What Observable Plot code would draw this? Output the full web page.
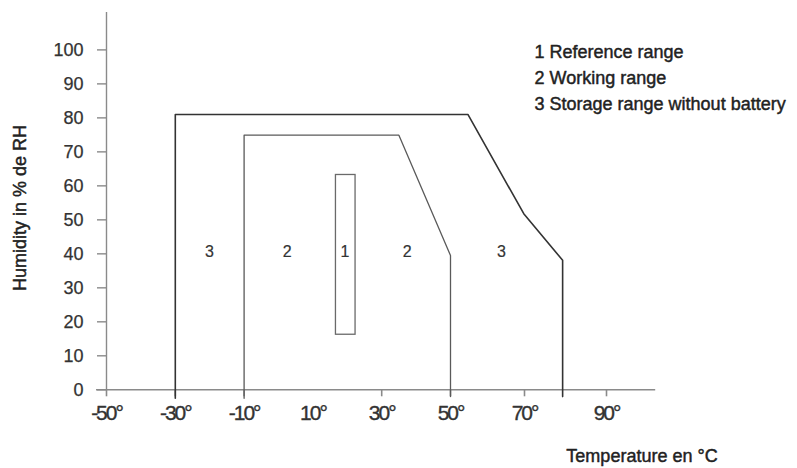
<!DOCTYPE html>
<html>
<head>
<meta charset="utf-8">
<script src="https://cdn.jsdelivr.net/npm/d3@7"></script>
<script src="https://cdn.jsdelivr.net/npm/@observablehq/plot@0.6"></script>
<style>
  html, body { margin: 0; padding: 0; background: #fff; }
  #chart svg { display: block; }
  #chart svg text { stroke-linejoin: round; }
  #chart .heavy text { stroke: #222; stroke-width: 0.45px; }
  #chart .ylabels text { stroke: #333; stroke-width: 0.25px; }
  #chart .xlabels text { letter-spacing: -2px; stroke: #333; stroke-width: 0.35px; }
  #chart .regions text { stroke: #333; stroke-width: 0.2px; }
</style>
</head>
<body>
<div id="chart"></div>
<script>
// Tick values
const xTicks = [-50, -30, -10, 10, 30, 50, 70, 90];
const xTickMarks = [-50, -30, -10, 30, 50, 70, 90];
const yTicks = [0, 10, 20, 30, 40, 50, 60, 70, 80, 90, 100];

// 3 Storage range without battery (temperature °C, humidity %RH)
const storageT = [-30, -30, 54.7, 69.8, 79.3, 79.3];
const storageH = [-2.5, 81, 81, 51.8, 38.1, -2];

// 2 Working range
const workingT = [-10, -10, 35, 50, 50];
const workingH = [-2.5, 74.9, 74.9, 39.5, -2];

// 1 Reference range (rectangle)
const refT = [16.7, 22.4];
const refH = [16.2, 63.2];

// Region number labels
const regionLabels = ["3", "2", "1", "2", "3"];
const regionT = [-20.1, 2.5, 19.3, 37.4, 63.8];
const regionH = [40.7, 40.7, 40.7, 40.7, 40.7];

// Legend and axis titles
const legendLines = ["1 Reference range", "2 Working range", "3 Storage range without battery"];
const yTitle = "Humidity in % de RH";
const xTitle = "Temperature en °C";

const toPts = (ts, hs) => ts.map((t, i) => ({t, h: hs[i]}));
const storage = toPts(storageT, storageH);
const working = toPts(workingT, workingH);
const ref = [{t1: refT[0], t2: refT[1], h1: refH[0], h2: refH[1]}];
const regions = regionLabels.map((s, i) => ({s, t: regionT[i], h: regionH[i]}));

const axisGray = "#8a8a8a";

const chart = Plot.plot({
  width: 797,
  height: 468,
  marginLeft: 106,
  marginRight: 142,
  marginTop: 12,
  marginBottom: 78.7,
  style: {fontFamily: "'Liberation Sans', Arial, sans-serif", background: "#fff", overflow: "visible"},
  x: {type: "linear", domain: [-50, 50, 70, 90], range: [106, 450, 524, 606], label: null},
  y: {type: "linear", domain: [0, 111], range: [389.3, 12], label: null},
  marks: [
    // axis lines
    Plot.ruleY([0], {x1: -52.9, x2: 102, stroke: axisGray, strokeWidth: 1.6}),
    Plot.ruleX([-50], {y1: 0, y2: 111, stroke: axisGray, strokeWidth: 1.4}),
    // tick marks
    Plot.axisY({ticks: yTicks, tickSize: 9, text: null, stroke: axisGray, strokeWidth: 1.4, label: null}),
    Plot.axisX({ticks: xTickMarks, tickSize: 7, text: null, stroke: axisGray, strokeWidth: 1.6, label: null}),
    // tick labels (text mark 0 and 1)
    Plot.text(yTicks, {x: -50, y: d => d, text: d => String(d), textAnchor: "end", dx: -23, fontSize: 18, fill: "#333"}),
    Plot.text(xTicks, {x: d => d, y: 0, text: d => d + "°", dy: 23, fontSize: 21, fill: "#333"}),
    // ranges
    Plot.line(storage, {x: "t", y: "h", stroke: "#333", strokeWidth: 1.6}),
    Plot.line(working, {x: "t", y: "h", stroke: "#5a5a5a", strokeWidth: 1.3}),
    Plot.rect(ref, {x1: "t1", x2: "t2", y1: "h1", y2: "h2", fill: "none", stroke: "#6a6a6a", strokeWidth: 1.3}),
    // region labels (text mark 2)
    Plot.text(regions, {x: "t", y: "h", text: "s", fontSize: 16, fill: "#333"}),
    // legend (text mark 3)
    Plot.text([legendLines.join("\n")], {frameAnchor: "top-left", dx: 428, dy: 26.4, textAnchor: "start", lineAnchor: "top", lineHeight: 1.46, fontSize: 18, fill: "#222"}),
    // axis titles (text marks 4 and 5)
    Plot.text([yTitle], {frameAnchor: "left", rotate: -90, textAnchor: "middle", lineAnchor: "middle", dx: -86.5, dy: 6.85, fontSize: 18, fill: "#222"}),
    Plot.text([xTitle], {frameAnchor: "bottom", textAnchor: "middle", dx: 261, dy: 72.4, fontSize: 18, fill: "#222"})
  ]
});
const textGroupClasses = ["ylabels", "xlabels", "regions", "heavy", "heavy", "heavy"];
d3.select(chart).selectAll('g[aria-label="text"]').each(function(_, i) {
  if (textGroupClasses[i]) this.classList.add(textGroupClasses[i]);
});
document.getElementById("chart").appendChild(chart);
</script>
</body>
</html>
